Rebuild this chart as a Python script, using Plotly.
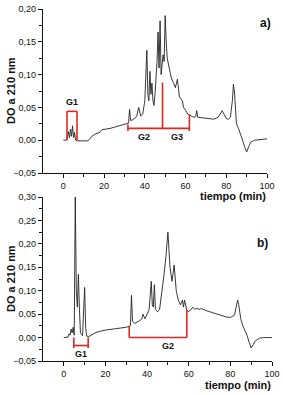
import plotly.graph_objects as go

# ---- data: panel a) ----
t_a = [0, 1.5, 2, 2.5, 3, 3.5, 4, 4.5, 5, 5.5, 6, 7, 9, 12, 13, 14, 16, 18, 19, 20, 21, 23, 25, 27, 29, 31,
       32, 32.5, 33, 34, 36, 37, 38, 39, 40, 41, 41.5, 42, 42.5, 43, 43.5, 44, 44.5, 45, 46, 46.5, 47, 47.5,
       48, 48.5, 49, 49.5, 50, 50.5, 51, 52, 53, 54, 55, 56, 56.5, 57, 58, 58.5, 59, 60, 61, 62, 63, 64,
       65, 65.5, 66, 68, 70, 72, 74, 76, 77, 78, 79, 80, 81, 82, 83, 83.5, 84, 84.5, 85, 86, 87, 88, 89,
       90, 91, 92, 94, 96, 98, 100]
y_a = [0, 0, 0.003, 0.013, 0.004, 0.017, 0.006, 0.022, 0.004, 0.012, 0.0, -0.001, -0.001, -0.001, 0.002,
       0.006, 0.01, 0.012, 0.016, 0.016, 0.017, 0.018, 0.02, 0.021, 0.023, 0.025,
       0.026, 0.047, 0.03, 0.031, 0.036, 0.05, 0.037, 0.04, 0.06, 0.137, 0.07, 0.06, 0.105, 0.07, 0.087,
       0.06, 0.053, 0.07, 0.12, 0.165, 0.11, 0.182, 0.1, 0.115, 0.13, 0.12, 0.19, 0.15, 0.125, 0.11, 0.095,
       0.088, 0.08, 0.093, 0.075, 0.066, 0.062, 0.06, 0.05, 0.046, 0.04, 0.038, 0.036, 0.035,
       0.036, 0.045, 0.035, 0.034, 0.033, 0.032, 0.032, 0.035, 0.04, 0.045, 0.039, 0.033, 0.032, 0.035,
       0.06, 0.085, 0.075, 0.04, 0.025, 0.018, 0.01, 0.0, -0.01, -0.018, -0.01, -0.003, 0.0, 0.001, 0.002, 0.002]

# ---- data: panel b) ----
t_b = [0, 2, 2.5, 3, 3.5, 4, 4.5, 5, 5.5, 6, 6.5, 7, 7.5, 8, 9, 9.5, 10, 10.5, 11, 12, 13, 15, 17, 20, 25,
       30, 32, 32.5, 33, 34, 36, 37.5, 38, 39, 40, 41, 42, 42.5, 43, 43.5, 44, 45, 46, 47, 48, 49, 50, 51,
       52, 53, 54, 55, 56, 57, 57.5, 58, 59, 60, 61, 62, 63, 64, 65, 66, 68, 70, 72, 75, 78, 80, 82, 83,
       83.5, 84, 85, 86, 87, 88, 89, 90, 91, 92, 94, 96, 100]
y_b = [0, 0.001, 0.008, 0.005, 0.018, 0.01, 0.022, 0.005, 0.3, 0.1, 0.065, 0.135, 0.06, 0.01, 0.004, 0.05,
       0.107, 0.02, 0.003, 0.002, 0.005, 0.01, 0.013, 0.016, 0.019,
       0.022, 0.025, 0.09, 0.035, 0.03, 0.035, 0.04, 0.05, 0.04, 0.05, 0.06, 0.12, 0.07, 0.065, 0.113, 0.06,
       0.055, 0.06, 0.09, 0.13, 0.17, 0.225, 0.15, 0.12, 0.155, 0.1, 0.08, 0.07, 0.08, 0.065, 0.08, 0.06,
       0.055, 0.06, 0.065, 0.06, 0.063, 0.06, 0.062, 0.058, 0.055, 0.052, 0.048, 0.044, 0.043, 0.048, 0.07,
       0.08, 0.07, 0.04, 0.025, 0.015, 0.005, -0.01, -0.022, -0.015, -0.007, -0.001, 0.0, 0.0]

x_ticks = [0, 20, 40, 60, 80, 100]
ya_ticks = [-0.05, 0, 0.05, 0.10, 0.15, 0.20]
yb_ticks = [-0.05, 0, 0.05, 0.10, 0.15, 0.20, 0.25, 0.30]

# bracket segments (x0, y0, x1, y1) per panel
brackets_a = [(1.8, 0, 1.8, 0.044), (6.7, 0, 6.7, 0.044), (1.8, 0.044, 6.7, 0.044),
              (31.7, 0.018, 61.9, 0.018), (31.7, 0.014, 31.7, 0.024), (48.7, 0.018, 48.7, 0.088),
              (61.9, 0.014, 61.9, 0.039)]
labels_a = [("G1", 4.2, 0.059), ("G2", 39.7, 0.005), ("G3", 55.7, 0.005)]
brackets_b = [(4.8, -0.017, 11.7, -0.017), (4.8, -0.022, 4.8, 0.0), (11.7, -0.022, 11.7, 0.0),
              (31.4, 0.0, 59.1, 0.0), (31.4, 0.0, 31.4, 0.024), (59.1, 0.0, 59.1, 0.059)]
labels_b = [("G1", 8.2, -0.035), ("G2", 50.2, -0.018)]

RED = "#e0281e"
FONT = "Liberation Sans, Arial, sans-serif"
W, H = 283, 395

fig = go.Figure()
fig.add_trace(go.Scatter(x=t_a, y=y_a, mode="lines", line=dict(color="#222", width=0.9),
                         xaxis="x", yaxis="y", showlegend=False))
fig.add_trace(go.Scatter(x=t_b, y=y_b, mode="lines", line=dict(color="#222", width=0.9),
                         xaxis="x2", yaxis="y2", showlegend=False))

shapes = []
annots = []
for xr, yr, br, lb in (("x", "y", brackets_a, labels_a), ("x2", "y2", brackets_b, labels_b)):
    for x0, y0, x1, y1 in br:
        shapes.append(dict(type="line", xref=xr, yref=yr, x0=x0, y0=y0, x1=x1, y1=y1,
                           line=dict(color=RED, width=1.6)))
    for txt, lx, ly in lb:
        annots.append(dict(text="<b>%s</b>" % txt, x=lx, y=ly, xref=xr, yref=yr, showarrow=False,
                           xanchor="center", yanchor="middle",
                           font=dict(size=9, color="#111", family=FONT)))


def paper_text(txt, px, py, size, xanchor="center", angle=0):
    return dict(text="<b>%s</b>" % txt, x=px / W, y=1 - py / H, xref="paper", yref="paper",
                xanchor=xanchor, yanchor="middle", textangle=angle, showarrow=False,
                font=dict(size=size, color="#111", family=FONT))


annots += [
    paper_text("a)", 265, 23, 12),
    paper_text("b)", 262, 243, 12),
    paper_text("tiempo (min)", 268, 196, 11, xanchor="right"),
    paper_text("tiempo (min)", 273, 385, 11, xanchor="right"),
    paper_text("DO a 210 nm", 11, 91, 11, angle=-90),
    paper_text("DO a 210 nm", 11, 279, 11, angle=-90),
]


def xax(domain, anchor):
    return dict(domain=domain, anchor=anchor, range=[-10, 100], tickvals=x_ticks, showgrid=False,
                zeroline=False, showline=True, linecolor="#111", linewidth=1.4, ticks="outside",
                ticklen=4, tickwidth=1.2, tickcolor="#111", automargin=False, ticklabelstandoff=0,
                minor=dict(tickvals=[10, 30, 50, 70, 90], ticklen=2.5, ticks="outside", tickcolor="#111"),
                tickfont=dict(size=9, color="#111", family=FONT))


def yax(domain, anchor, rng, tv):
    minor = [round(v + 0.025, 3) for v in tv[:-1]]
    return dict(domain=domain, anchor=anchor, range=rng, tickvals=tv, tickformat=".2f", showgrid=False,
                zeroline=False, showline=True, linecolor="#111", linewidth=1.4, ticks="outside",
                ticklen=4, tickwidth=1.2, tickcolor="#111", automargin=False, ticklabelstandoff=0,
                minor=dict(tickvals=minor, ticklen=2.5, ticks="outside", tickcolor="#111"),
                tickfont=dict(size=9, color="#111", family=FONT))


fig.update_layout(
    width=W, height=H, margin=dict(l=0, r=0, t=0, b=0),
    paper_bgcolor="white", plot_bgcolor="white", separators=",.",
    xaxis=xax([43 / W, 267 / W], "y"),
    yaxis=yax([1 - 173 / H, 1 - 9 / H], "x", [-0.05, 0.20], ya_ticks),
    xaxis2=xax([43 / W, 272 / W], "y2"),
    yaxis2=yax([1 - 361 / H, 1 - 197 / H], "x2", [-0.05, 0.30], yb_ticks),
    shapes=shapes, annotations=annots,
)
fig.write_html("out.html")
